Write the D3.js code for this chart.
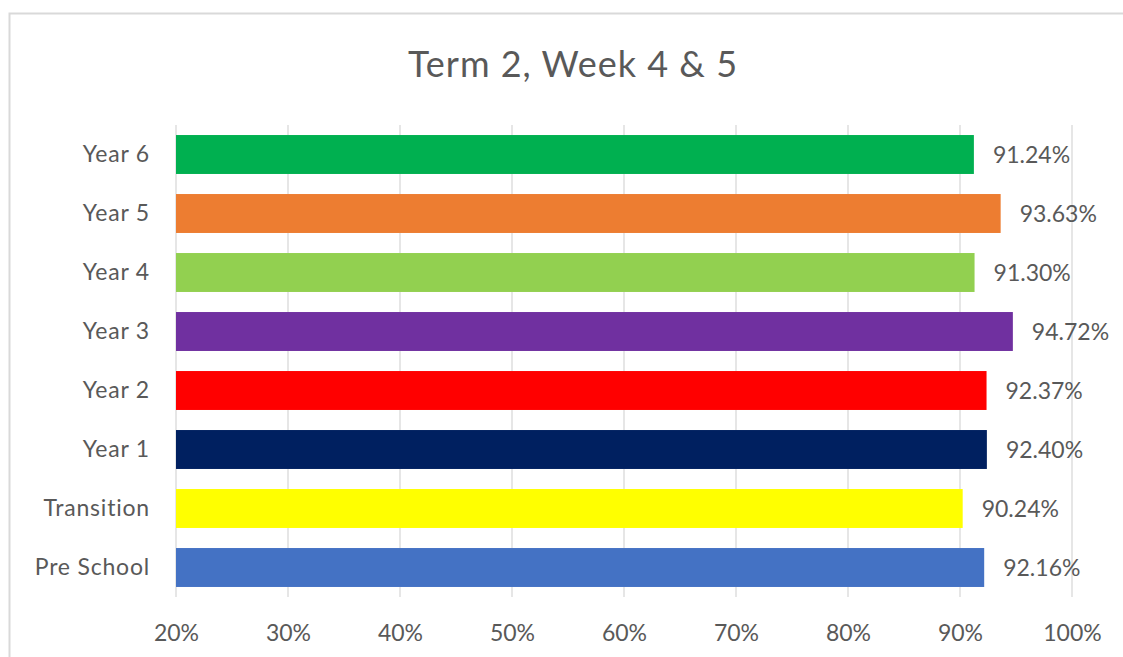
<!DOCTYPE html>
<html>
<head>
<meta charset="utf-8">
<script src="https://cdn.jsdelivr.net/npm/d3@7"></script>
<style>
  html, body { margin: 0; padding: 0; background: #fff; }
  svg { display: block; font-family: "Lato", "Open Sans", sans-serif; }
</style>
</head>
<body>
<svg id="chart" width="1123" height="657"></svg>
<script>
const categories = ["Year 6", "Year 5", "Year 4", "Year 3", "Year 2", "Year 1", "Transition", "Pre School"];
const values = [91.24, 93.63, 91.30, 94.72, 92.37, 92.40, 90.24, 92.16];
const colors = ["#00b050", "#ed7d31", "#92d050", "#7030a0", "#ff0000", "#002060", "#ffff00", "#4472c4"];
const tickValues = [20, 30, 40, 50, 60, 70, 80, 90, 100];
const title = "Term 2, Week 4 & 5";

const svg = d3.select("#chart");
const W = 1123, H = 657;
const margin = { left: 176, right: 51, top: 125, bottom: 60 };

// chart frame
svg.append("rect")
  .attr("x", 9.5).attr("y", 13.5)
  .attr("width", W + 20).attr("height", H + 20)
  .attr("fill", "#fff").attr("stroke", "#d9d9d9").attr("stroke-width", 2);

const x = d3.scaleLinear().domain([20, 100]).range([margin.left, W - margin.right]);
const y = d3.scaleBand().domain(categories).range([margin.top, H - margin.bottom]).paddingInner(0.34).paddingOuter(0.17);

// gridlines
svg.append("g").selectAll("line").data(tickValues).join("line")
  .attr("x1", d => x(d)).attr("x2", d => x(d))
  .attr("y1", margin.top).attr("y2", H - margin.bottom)
  .attr("stroke", "#d9d9d9").attr("stroke-width", 1.3);

// x axis labels
const xAxis = d3.axisBottom(x).tickValues(tickValues).tickSize(0).tickPadding(0).tickFormat(d => d + "%");
const gx = svg.append("g").attr("transform", `translate(0,${H - margin.bottom + 28})`).call(xAxis);
gx.select(".domain").remove();
gx.selectAll("text").attr("fill", "#595959").attr("font-size", 23).attr("font-family", "Lato, sans-serif");

// y axis labels
const yAxis = d3.axisLeft(y).tickSize(0).tickPadding(26);
const gy = svg.append("g").attr("transform", `translate(${margin.left},0)`).call(yAxis);
gy.select(".domain").remove();
gy.selectAll("text").attr("fill", "#595959").attr("font-size", 23)
  .attr("letter-spacing", 0.8).attr("font-family", "Lato, sans-serif");

// bars
const data = categories.map((c, i) => ({ c, v: values[i], col: colors[i] }));
svg.append("g").selectAll("rect").data(data).join("rect")
  .attr("x", x(20)).attr("y", d => y(d.c))
  .attr("width", d => x(d.v) - x(20)).attr("height", y.bandwidth())
  .attr("fill", d => d.col);

// value labels
svg.append("g").selectAll("text").data(data).join("text")
  .attr("x", d => x(d.v) + 19).attr("y", d => y(d.c) + y.bandwidth() / 2)
  .attr("dy", "0.35em")
  .attr("fill", "#595959").attr("font-size", 23)
  .text(d => d.v.toFixed(2) + "%");

// title
svg.append("text")
  .attr("x", 573).attr("y", 77)
  .attr("text-anchor", "middle")
  .attr("fill", "#595959").attr("font-size", 36).attr("letter-spacing", 1)
  .text(title);
</script>
</body>
</html>
